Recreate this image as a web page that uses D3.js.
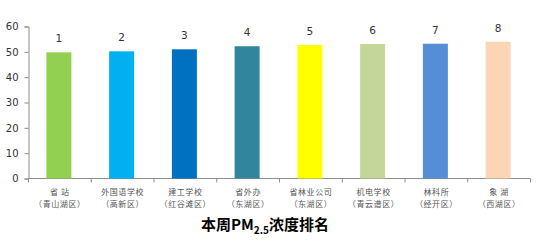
<!DOCTYPE html>
<html>
<head>
<meta charset="utf-8">
<script src="https://cdn.jsdelivr.net/npm/d3@7"></script>
<style>
  html, body { margin: 0; padding: 0; background: #fff; }
  svg { display: block; font-family: "Noto Sans CJK SC", "DejaVu Sans", sans-serif; }
</style>
</head>
<body>
<svg id="chart" width="538" height="249"></svg>
<script>
const sites = ["省 站", "外国语学校", "建工学校", "省外办", "省林业公司", "机电学校", "林科所", "象 湖"];
const districts = ["（青山湖区）", "（高新区）", "（红谷滩区）", "（东湖区）", "（东湖区）", "（青云谱区）", "（经开区）", "（西湖区）"];
const values = [49.8, 50.2, 51.0, 52.2, 52.7, 53.1, 53.2, 54.0];
const ranks = [1, 2, 3, 4, 5, 6, 7, 8];
const colors = ["#92D050", "#00B0F0", "#0070C0", "#31859C", "#FFFF00", "#C4D79B", "#558ED5", "#FCD5B5"];
const yTicks = [0, 10, 20, 30, 40, 50, 60];

const svg = d3.select("#chart");
const plotLeft = 28.5, plotRight = 530.5, plotTop = 26.5, plotBottom = 178.5;

const x = d3.scaleBand().domain(d3.range(sites.length)).range([plotLeft, plotRight]).paddingInner(0).paddingOuter(0);
const y = d3.scaleLinear().domain([0, 60]).range([plotBottom, plotTop]);
const barW = 25;

// y axis
const yAxis = svg.append("g")
  .attr("transform", `translate(${plotLeft},0)`)
  .call(d3.axisLeft(y).tickValues(yTicks).tickSize(4).tickPadding(6));
yAxis.select(".domain").attr("stroke", "#8c8c8c");
yAxis.selectAll(".tick line").attr("stroke", "#8c8c8c");
yAxis.selectAll(".tick text").attr("fill", "#333").style("font-family", "Verdana, DejaVu Sans, sans-serif").style("font-size", "10px");

// x axis line + ticks at band edges
svg.append("line")
  .attr("x1", plotLeft).attr("x2", plotRight)
  .attr("y1", plotBottom).attr("y2", plotBottom)
  .attr("stroke", "#8c8c8c");
svg.selectAll("line.xtick")
  .data(d3.range(sites.length + 1))
  .join("line")
  .attr("class", "xtick")
  .attr("x1", (i) => plotLeft + i * x.bandwidth())
  .attr("x2", (i) => plotLeft + i * x.bandwidth())
  .attr("y1", plotBottom).attr("y2", plotBottom + 4)
  .attr("stroke", "#8c8c8c");

// bars
svg.selectAll("rect.bar")
  .data(values)
  .join("rect")
  .attr("class", "bar")
  .attr("x", (d, i) => x(i) + x.bandwidth() / 2 - barW / 2 - 1)
  .attr("width", barW)
  .attr("y", (d) => y(d))
  .attr("height", (d) => y(0) - y(d))
  .attr("fill", (d, i) => colors[i]);

// rank labels
svg.selectAll("text.rank")
  .data(values)
  .join("text")
  .attr("class", "rank")
  .attr("x", (d, i) => x(i) + x.bandwidth() / 2 - 1)
  .attr("y", (d) => y(d) - 10)
  .attr("text-anchor", "middle")
  .attr("fill", "#333")
  .style("font-family", "Verdana, DejaVu Sans, sans-serif")
  .style("font-size", "10.5px")
  .text((d, i) => ranks[i]);

// category labels
const cat = svg.selectAll("text.cat")
  .data(sites)
  .join("text")
  .attr("class", "cat")
  .attr("text-anchor", "middle")
  .attr("fill", "#555")
  .style("font-size", "8px")
  .style("letter-spacing", "0.6px");
cat.append("tspan")
  .attr("x", (d, i) => x(i) + x.bandwidth() / 2)
  .attr("y", 195)
  .text((d) => d);
cat.append("tspan")
  .attr("x", (d, i) => x(i) + x.bandwidth() / 2)
  .attr("y", 206.5)
  .text((d, i) => districts[i]);

// title
const title = svg.append("text")
  .attr("x", 265)
  .attr("y", 230)
  .attr("text-anchor", "middle")
  .attr("fill", "#000")
  .style("font-size", "15px")
  .style("font-weight", "bold");
title.append("tspan").text("本周PM");
title.append("tspan").attr("dy", 4).style("font-size", "10px").text("2.5");
title.append("tspan").attr("dy", -4).text("浓度排名");
</script>
</body>
</html>
